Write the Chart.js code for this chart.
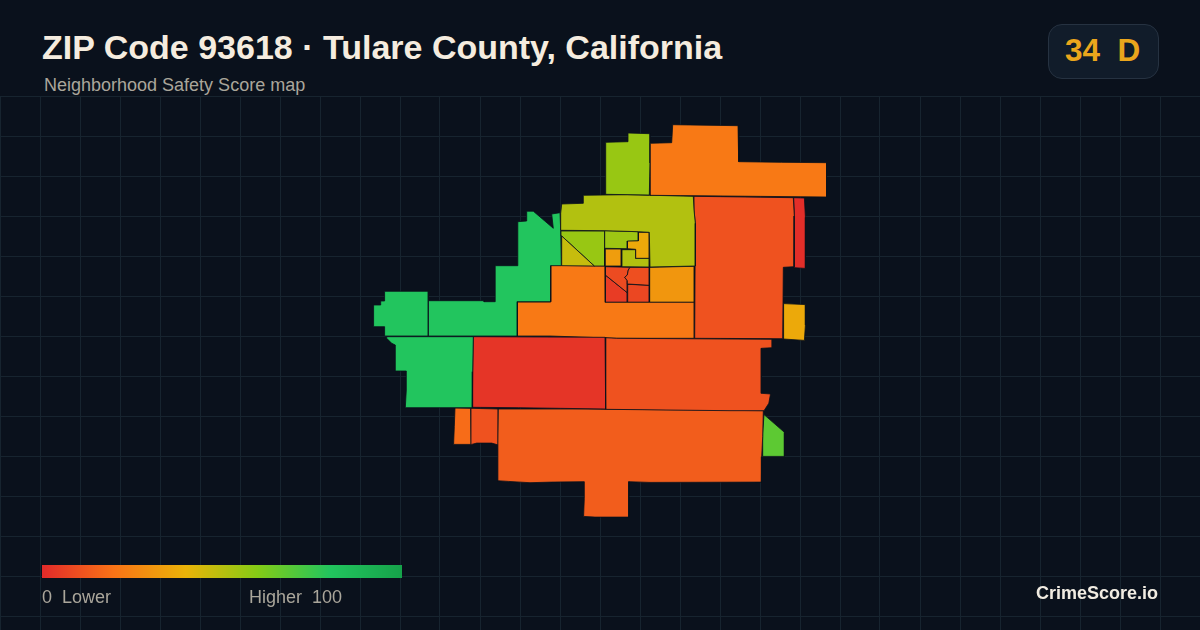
<!DOCTYPE html>
<html>
<head>
<meta charset="utf-8">
<script src="https://cdn.jsdelivr.net/npm/chart.js@4"></script>
<style>
  html, body { margin: 0; padding: 0; }
  body { width: 1200px; height: 630px; background: #0a111c; overflow: hidden; position: relative; font-family: "Liberation Sans", Arial, sans-serif; }
  canvas { position: absolute; left: 0; top: 96px; }
  .txt { position: absolute; white-space: pre; line-height: 1; }
  #title { left: 42px; top: 30px; font-size: 34px; font-weight: bold; color: #f5ecdf; }
  #subtitle { left: 44px; top: 76px; font-size: 18px; color: #aaa69b; }
  #badge { position: absolute; left: 1048px; top: 24px; width: 109px; height: 53px; border: 1px solid #263241; border-radius: 14px; background: #111c2a; }
  #grade { left: 1065px; top: 35px; font-size: 31.5px; font-weight: bold; color: #eba61c; }
  #bar { position: absolute; left: 42px; top: 565px; width: 360px; height: 13px; }
  #low { left: 42px; top: 588px; font-size: 18px; color: #aaa69b; }
  #high { left: 249px; top: 588px; font-size: 18px; color: #aaa69b; }
  #brand { right: 42px; top: 584px; font-size: 18px; font-weight: bold; color: #f1ece2; }
</style>
</head>
<body>
<canvas id="map" width="1200" height="534"></canvas>
<div class="txt" id="title">ZIP Code 93618 · Tulare County, California</div>
<div class="txt" id="subtitle">Neighborhood Safety Score map</div>
<div id="badge"></div>
<div class="txt" id="grade">34  D</div>
<div id="bar"></div>
<div class="txt" id="low">0  Lower</div>
<div class="txt" id="high">Higher  100</div>
<div class="txt" id="brand">CrimeScore.io</div>
<script>
// Score scale (stops of the colour ramp)
const rampStops = [0, 20, 40, 60, 80, 100];
const rampColors = [[226, 42, 42], [249, 115, 22], [234, 179, 8], [132, 204, 22], [34, 197, 94], [22, 163, 74]];

// Neighborhood scores, same order as the outlines below
const scores = [22, 56, 51, 55, 37, 33, 51, 47, 56, 80, 80, 80, 3, 11, 11, 1, 37, 22, 10, 8, 9, 5, 31, 14, 11, 18, 68];

// Neighborhood outlines, in map units
const neNorth = [[672.7,124.7],[738,125.7],[738.7,161.7],[781.7,162.3],[826.5,162.7],[826.5,197],[650,195.3],[650.3,143.3],[671.7,142.7]];
const northLime = [[605.7,142.3],[628,141.7],[628,133],[650,133.7],[650,163],[649.3,195],[605.7,194.3]];
const centerBig = [[583.3,195.3],[627.3,194.7],[693.3,196.3],[694,210],[695.3,223.3],[695.3,266],[650,267],[649.3,232.3],[638.3,231.7],[605,230.7],[560.7,230.3],[560.7,213.3],[561.7,204],[583.3,203.3]];
const innerLime = [[604.7,230.7],[638.3,231.7],[638.3,240.7],[627.3,241],[627.3,248.7],[604.7,248.3]];
const innerAmber = [[638.3,232.3],[649.3,232.3],[649.3,258.3],[635.7,258.3],[635.7,249.3],[627.3,248.7],[627.3,240.7],[638.3,240.7]];
const innerOrange = [[605.3,249],[621.3,249],[621.3,266],[605.3,266]];
const innerGreen = [[622,249.7],[635.7,249.7],[635.7,258.3],[649.3,258.3],[649.3,267],[622,266.7]];
const wedgeYellow = [[561.7,236],[594.3,266],[561.7,265.7]];
const wedgeLime = [[561,231],[604.7,231],[604.7,266],[594.3,266],[561.7,236]];
const westUpper = [[526.7,211.2],[533.3,211.2],[553.3,228.3],[551.7,214],[560,212.7],[560.7,230],[561.3,265.7],[550.7,265.7],[550.7,301.7],[517.3,301.7],[517.3,336],[428.5,336],[428.5,300.7],[484,300.7],[484,301.7],[495.2,301.7],[495.2,265.7],[517.3,265.7],[517.8,221.7],[526.7,221]];
const westEnd = [[384.6,291.3],[428.3,291.3],[428.3,336],[384.6,336],[384.6,326.7],[373.6,326.7],[373.6,305],[380.7,305],[380.7,301],[384.6,301]];
const southWest = [[386.7,336.7],[473.3,336.7],[472.7,371.7],[472.3,407.7],[405.3,407.7],[406.3,390],[406.3,371],[395.3,371],[395.3,345],[391.7,343.3],[386.7,338.3]];
const redMiddle = [[473.3,336.7],[605,337.3],[605.7,409],[518.3,407.7],[472.3,407.3],[472.7,371.7]];
const southMiddle = [[605.3,337.7],[616.7,338.3],[772.2,339.3],[772.2,347.7],[761.3,348.3],[761.3,393.3],[770.5,394],[768.8,403.3],[764,410.7],[730,410.7],[605.3,409.3]];
const eastBig = [[694,196.3],[793.3,197.7],[794.3,216],[794,266.7],[783.3,267.3],[782.7,338.7],[694.7,338.3],[695.3,223.3],[694,210]];
const eastStrip = [[793.7,197.7],[804.4,198],[805.4,217.3],[805.4,268.4],[794.7,267.7],[794.3,216]];
const eastAmber = [[783.6,303.6],[805.4,304.6],[805.4,325],[804.4,340.4],[783.6,339]];
const centerOrange = [[550.7,265.3],[605,266],[605.3,302.3],[694.3,302.3],[694.3,338.3],[616.7,338.3],[550,336],[517.3,336],[517.3,302],[550.7,302]];
const coreNE = [[630,267.3],[649.3,267.3],[649.3,285.3],[627.7,284],[627.3,280.7],[624.7,277.3],[627.3,275],[628.3,270]];
const coreSE = [[627.7,284.3],[649.3,285.3],[649.3,302.3],[627.3,302.3]];
const coreNW = [[605.3,266.7],[630,267.3],[628.3,270],[627.3,275],[624.7,277.3],[627.3,280.7],[627.3,292.7],[605.3,275]];
const coreSW = [[605.3,275],[627.3,292.7],[627.3,302.3],[605.3,302.3]];
const coreEast = [[649.7,267.3],[694.3,266.3],[694.3,302.3],[649.7,302.3]];
const southBig = [[498.3,409],[585,409],[664,409.7],[763.3,410.7],[762.7,436.7],[761.7,456.7],[761.4,482.1],[650,482.4],[628.7,481.7],[628.7,517.1],[595,517.1],[583.6,516.4],[584.3,498.3],[584.3,481.7],[551.7,482.1],[530,482.7],[508.3,481.4],[497.3,480.7],[497.9,443.3]];
const southSmall = [[471,408.3],[498.3,409],[498.3,445],[491.7,443.1],[476.7,443.1],[471.7,444.4]];
const southTiny = [[455,408],[470.7,408.3],[471,444.4],[453.6,444.4],[454.3,426.7]];
const eastLime = [[764,414.6],[784.4,432.3],[784.4,456.4],[762.7,456.4],[762.7,433.3]];

const outlines = [neNorth, northLime, centerBig, innerLime, innerAmber, innerOrange, innerGreen, wedgeYellow, wedgeLime,
  westUpper, westEnd, southWest, redMiddle, southMiddle, eastBig, eastStrip, eastAmber, centerOrange,
  coreNE, coreSE, coreNW, coreSW, coreEast, southBig, southSmall, southTiny, eastLime];

function scoreColor(score) {
  let i = 0;
  while (i < rampStops.length - 2 && score > rampStops[i + 1]) i++;
  const t = (score - rampStops[i]) / (rampStops[i + 1] - rampStops[i]);
  const c = rampColors[i].map((v, k) => Math.round(v + (rampColors[i + 1][k] - v) * t));
  return 'rgb(' + c.join(',') + ')';
}

// Legend bar uses the same ramp
document.getElementById('bar').style.background = 'linear-gradient(to right,' +
  rampStops.map((s, i) => 'rgb(' + rampColors[i].join(',') + ') ' + s + '%').join(',') + ')';

const datasets = outlines.map((shape, i) => ({
  data: shape.concat([shape[0]]).map(p => ({ x: p[0], y: p[1] })),
  showLine: true,
  fill: 'shape',
  tension: 0,
  pointRadius: 0,
  borderWidth: 0.8,
  borderColor: '#0a111c',
  backgroundColor: scoreColor(scores[i])
}));

const gridColor = '#17242f';

new Chart(document.getElementById('map').getContext('2d'), {
  type: 'scatter',
  data: { datasets: datasets },
  options: {
    responsive: false,
    animation: false,
    layout: { padding: 0 },
    plugins: { legend: { display: false }, tooltip: { enabled: false } },
    scales: {
      x: {
        type: 'linear',
        min: 0,
        max: 1200,
        ticks: { display: false, stepSize: 40 },
        grid: { color: gridColor, drawTicks: false },
        border: { display: false }
      },
      y: {
        type: 'linear',
        min: 96,
        max: 630,
        reverse: true,
        afterBuildTicks: function(axis) {
          const lines = [];
          for (let v = 96; v <= 630; v += 40) lines.push({ value: v });
          axis.ticks = lines;
        },
        ticks: { display: false },
        grid: { color: gridColor, drawTicks: false },
        border: { display: false }
      }
    }
  }
});
</script>
</body>
</html>
